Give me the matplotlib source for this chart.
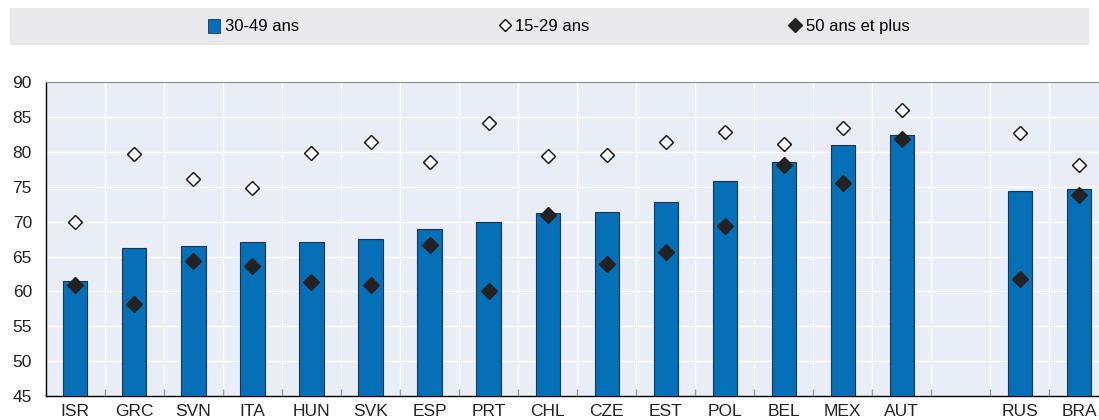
import numpy as np
import matplotlib.pyplot as plt
from matplotlib.lines import Line2D
from matplotlib.patches import Patch, Rectangle

plt.rcParams['font.family'] = ['Liberation Sans', 'DejaVu Sans']

# --- data -------------------------------------------------------------
countries = ['ISR', 'GRC', 'SVN', 'ITA', 'HUN', 'SVK', 'ESP', 'PRT', 'CHL',
             'CZE', 'EST', 'POL', 'BEL', 'MEX', 'AUT', '', 'RUS', 'BRA']
age_30_49 = [61.5, 66.2, 66.5, 67.1, 67.1, 67.5, 68.9, 69.9, 71.3,
             71.4, 72.9, 75.9, 78.5, 81.0, 82.4, np.nan, 74.4, 74.7]
age_15_29 = [70.0, 79.7, 76.1, 74.9, 79.9, 81.5, 78.5, 84.2, 79.4,
             79.6, 81.5, 82.9, 81.2, 83.5, 86.0, np.nan, 82.7, 78.1]
age_50p = [60.9, 58.2, 64.3, 63.6, 61.4, 60.9, 66.6, 60.1, 70.9,
           63.9, 65.6, 69.4, 78.1, 75.6, 81.9, np.nan, 61.8, 73.9]
yticks = list(range(45, 91, 5))

bar_col = '#0570b8'
bg_col = '#e9edf6'

fig = plt.figure(figsize=(10.99, 4.2), dpi=100)
# axes runs slightly past the right edge, like the reference
ax = fig.add_axes([45.8 / 1099, 24 / 420, 1062.7 / 1099, 313.7 / 420])
ax.set_facecolor(bg_col)

x = np.arange(len(countries))
ax.bar(x, age_30_49, width=0.41, color=bar_col, edgecolor='#1d3550',
       linewidth=0.8, zorder=3)
ax.plot(x, age_15_29, 'D', ms=7.5, mfc='white', mec='black', mew=1.0,
        ls='none', zorder=4)
ax.plot(x, age_50p, 'D', ms=8, mfc='#222222', mec='#222222',
        ls='none', zorder=5)

ax.set_ylim(45, 90)
ax.set_xlim(-0.5, len(countries) - 0.5)
ax.set_yticks(yticks)
ax.set_xticks(x)
ax.set_xticklabels(countries)
ax.set_xticks(np.arange(len(countries) + 1) - 0.5, minor=True)
ax.tick_params(axis='x', which='major', length=0, labelsize=12.5, pad=6,
               colors='#222222')
ax.tick_params(axis='x', which='minor', length=5, direction='in',
               color='#999999', width=1)
ax.tick_params(axis='y', length=0, labelsize=12.5, pad=10, colors='#222222')

ax.grid(True, axis='y', color='white', lw=1.0, zorder=0)
ax.grid(True, axis='x', which='minor', color='white', lw=1.0, zorder=0)
ax.set_axisbelow(True)

for s in ['left', 'bottom']:
    ax.spines[s].set_color('black')
    ax.spines[s].set_linewidth(1.0)
ax.spines['top'].set_color('#888888')
ax.spines['right'].set_visible(False)

# --- legend -----------------------------------------------------------
fig.patches.append(Rectangle((10 / 1099, 1 - 45 / 420), 1079 / 1099, 37 / 420,
                             transform=fig.transFigure, facecolor='#e9e9ec',
                             edgecolor='none', zorder=0))
handles = [Patch(facecolor=bar_col, edgecolor='#1d3550', lw=0.6),
           Line2D([], [], marker='D', ls='none', ms=6.5, mfc='white',
                  mec='black', mew=1.0),
           Line2D([], [], marker='D', ls='none', ms=7, mfc='#222222',
                  mec='#222222')]
labels = ['30-49 ans', '15-29 ans', '50 ans et plus']
fig.legend(handles, labels, loc='center', ncol=3, frameon=False,
           bbox_to_anchor=(559 / 1099, 1 - 26.5 / 420), fontsize=12,
           handlelength=0.7, handletextpad=0.3, columnspacing=12.0,
           handleheight=0.9)

plt.savefig('out.png', dpi=100)
